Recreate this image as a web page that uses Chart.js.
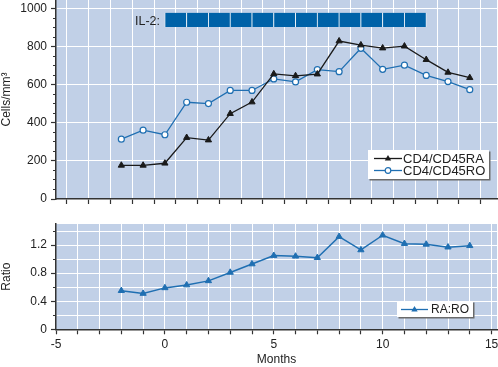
<!DOCTYPE html>
<html><head><meta charset="utf-8">
<script src="https://cdn.jsdelivr.net/npm/chart.js@4.4.1/dist/chart.umd.min.js"></script>
<style>
html,body{margin:0;padding:0;background:#fff;}
#wrap{position:relative;width:498px;height:367px;overflow:hidden;font-family:"Liberation Sans",Arial,sans-serif;color:#222;}
canvas{position:absolute;left:0;}
.box{position:absolute;background:#fff;box-shadow:1.5px 1.5px 0 #6a6a6a;}
.abs{position:absolute;white-space:nowrap;}
</style></head>
<body>
<div id="wrap">
  <canvas id="c1" width="498" height="212" style="top:0"></canvas>
  <canvas id="c2" width="498" height="155" style="top:212px"></canvas>
  <div class="abs" style="left:135px;top:14px;font-size:12.5px;line-height:14px;">IL-2:</div>
  <div class="box" style="left:368px;top:150px;width:121px;height:29px;"></div>
  <svg class="abs" style="left:374px;top:152px" width="29" height="13"><line x1="0" y1="6.5" x2="28" y2="6.5" stroke="#1a1a1a" stroke-width="1.3"/><polygon points="14,3 17.2,8.6 10.8,8.6" fill="#1a1a1a"/></svg>
  <div class="abs" style="left:403px;top:151.5px;font-size:13px;line-height:13px;">CD4/CD45RA</div>
  <svg class="abs" style="left:374px;top:164px" width="29" height="13"><line x1="0" y1="6.5" x2="28" y2="6.5" stroke="#1f6fb2" stroke-width="1.3"/><circle cx="14" cy="6.5" r="2.8" fill="#fff" stroke="#1f6fb2" stroke-width="1.2"/></svg>
  <div class="abs" style="left:403px;top:164px;font-size:13px;line-height:13px;">CD4/CD45RO</div>
  <div class="box" style="left:397px;top:301px;width:76px;height:16px;"></div>
  <svg class="abs" style="left:401px;top:302.5px" width="28" height="13"><line x1="0" y1="6.5" x2="27" y2="6.5" stroke="#1f6fb2" stroke-width="1.3"/><polygon points="13.5,3 16.7,8.6 10.3,8.6" fill="#1f6fb2"/></svg>
  <div class="abs" style="left:431px;top:302.5px;font-size:12px;line-height:13px;">RA:RO</div>
</div>
<script>
const months = [-2,-1,0,1,2,3,4,5,6,7,8,9,10,11,12,13,14];
const cd45ra = [177,177,188,323,310,449,510,658,648,657,831,810,794,804,733,666,638];
const cd45ro = [315,362,338,509,502,571,571,632,616,681,670,793,682,704,650,618,575];
const ratio = [0.55,0.51,0.59,0.63,0.69,0.81,0.93,1.05,1.04,1.02,1.32,1.13,1.34,1.22,1.21,1.17,1.19];
const il2Months = [0,1,2,3,4,5,6,7,8,9,10,11];
const il2Range = [905,980];
const cellTicks = [0,200,400,600,800,1000];
const ratioTicks = [0,0.4,0.8,1.2];
const monthTicks = [-5,0,5,10,15];

const plotBg = '#c1d0e7';
const axisCol = '#333333';
const blue = '#1f6fb2';
const dark = '#1a1a1a';
Chart.defaults.font.family = "'Liberation Sans', Arial, sans-serif";
Chart.defaults.font.size = 12;
Chart.defaults.color = '#222';

const bgPlugin = {id:'bg', beforeDraw(chart){
  const a = chart.chartArea, ctx = chart.ctx;
  ctx.save(); ctx.fillStyle = plotBg;
  ctx.fillRect(a.left, a.top, a.right - a.left, a.bottom - a.top);
  ctx.restore();
}};

function xScale(showLabels, height, title){
  return {
    type:'linear', min:-5, max:15.25, offset:false,
    ticks:{stepSize:1, includeBounds:false, autoSkip:false, maxRotation:0, padding:3,
      callback: v => (showLabels && monthTicks.includes(v)) ? String(v) : ''},
    grid:{color: c => (c.tick && c.tick.value === -5) ? 'rgba(0,0,0,0)' : '#ffffff',
      lineWidth:1, drawTicks:true, tickLength:5, tickColor:axisCol, tickWidth:1.2},
    border:{display:true, color:axisCol, width:1.5},
    title: title ? {display:true, text:title, padding:{top:0,bottom:0}} : {display:false},
    afterFit: s => { s.height = height; s.paddingLeft = 0; s.paddingRight = 0; }
  };
}
function yScale(min, max, step, isMajor, hasGrid, label, title){
  return {
    type:'linear', min:min, max:max,
    ticks:{stepSize:step, includeBounds:false, autoSkip:false, padding:4,
      callback: v => isMajor(v) ? label(v) : ''},
    grid:{color: c => (c.tick && c.tick.value !== 0 && hasGrid(c.tick.value)) ? '#ffffff' : 'rgba(0,0,0,0)',
      lineWidth:1, drawTicks:true, tickLength:5, tickColor:axisCol, tickWidth:1.2,
      tickBorderDash: c => (c.tick && isMajor(c.tick.value)) ? [] : [0,2,3,10]},
    border:{display:true, color:axisCol, width:1.5},
    title:{display:true, text:title, padding:{top:-1,bottom:0}},
    afterFit: s => { s.width = 56; s.paddingTop = 0; s.paddingBottom = 0; }
  };
}

const top1 = new Chart(document.getElementById('c1'), {
  type:'line',
  data:{datasets:[
    {label:'CD4/CD45RA', data: months.map((m,i)=>({x:m, y:cd45ra[i]})), borderColor:dark, backgroundColor:dark,
     borderWidth:1.3, pointStyle:'triangle', pointRadius:3.6, pointBackgroundColor:dark, pointBorderColor:dark, pointBorderWidth:1, order:0},
    {label:'CD4/CD45RO', data: months.map((m,i)=>({x:m, y:cd45ro[i]})), borderColor:blue, backgroundColor:'#fff',
     borderWidth:1.3, pointStyle:'circle', pointRadius:3, pointBackgroundColor:'#fff', pointBorderColor:blue, pointBorderWidth:1.2, order:1},
    {type:'bar', label:'IL-2', data: il2Months.map(m=>({x:m+0.5, y:il2Range})), backgroundColor:'#0062a8',
     borderColor:'#ffffff', borderWidth:{left:0.75,right:0.75,top:0,bottom:0}, borderSkipped:false,
     barPercentage:1, categoryPercentage:1, order:2}
  ]},
  options:{
    responsive:false, animation:false, events:[],
    layout:{autoPadding:false, padding:{top:0,right:1,left:0,bottom:0}},
    plugins:{legend:{display:false}, tooltip:{enabled:false}},
    scales:{
      x: xScale(false, 13, null),
      y: yScale(0, 1047, 50, v => cellTicks.includes(v), v => cellTicks.includes(v), v => String(v), 'Cells/mm³')
    }
  },
  plugins:[bgPlugin]
});

const bot = new Chart(document.getElementById('c2'), {
  type:'line',
  data:{datasets:[
    {label:'RA:RO', data: months.map((m,i)=>({x:m, y:ratio[i]})), borderColor:blue, backgroundColor:blue,
     borderWidth:1.5, pointStyle:'triangle', pointRadius:3.6, pointBackgroundColor:blue, pointBorderColor:blue, pointBorderWidth:1}
  ]},
  options:{
    responsive:false, animation:false, events:[],
    layout:{autoPadding:false, padding:{top:12,right:1,left:0,bottom:0}},
    plugins:{legend:{display:false}, tooltip:{enabled:false}},
    scales:{
      x: xScale(true, 37.7, 'Months'),
      y: yScale(0, 1.5, 0.2, v => ratioTicks.some(t => Math.abs(t - v) < 1e-6), v => true, v => String(Math.round(v*10)/10), 'Ratio')
    }
  },
  plugins:[bgPlugin]
});
</script>
</body></html>
